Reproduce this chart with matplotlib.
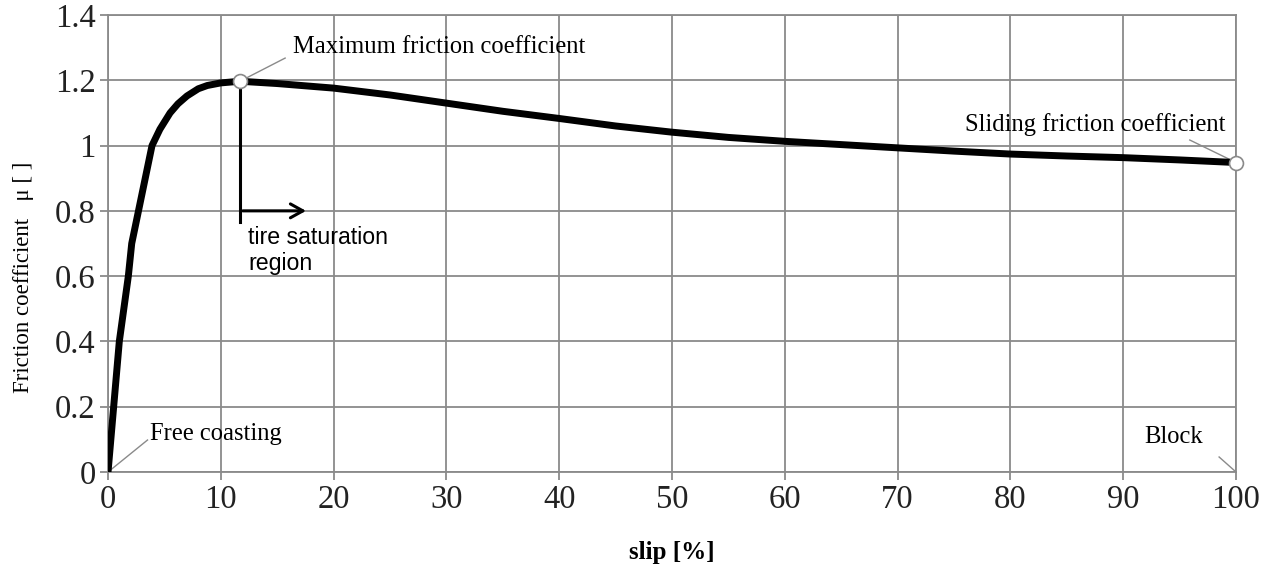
import numpy as np
from matplotlib import pyplot as plt

# slip [%] and friction coefficient
slip = [0, 0.5, 1.0, 1.8, 2.1, 2.7, 3.3, 3.9, 4.6, 5.5, 6.2, 7.0, 8.0, 8.8, 10, 11.7,
        15, 20, 25, 30, 35, 40, 45, 50, 55, 60, 65, 70, 75, 80, 85, 90, 95, 100]
mu = [0, 0.2, 0.4, 0.6, 0.7, 0.8, 0.9, 1.0, 1.05, 1.1, 1.128, 1.152, 1.174, 1.184, 1.192, 1.197,
      1.19, 1.176, 1.155, 1.13, 1.105, 1.083, 1.06, 1.041, 1.025, 1.013, 1.003,
      0.993, 0.983, 0.974, 0.968, 0.963, 0.956, 0.948]

peak = (11.7, 1.197)
slide = (100, 0.948)

xticks = list(range(0, 101, 10))
yticks = [0, 0.2, 0.4, 0.6, 0.8, 1.0, 1.2, 1.4]
ytick_labels = ["0", "0.2", "0.4", "0.6", "0.8", "1", "1.2", "1.4"]

serif = ["Liberation Serif", "DejaVu Serif"]
grey = "#8a8a8a"

fig = plt.figure(figsize=(12.65, 5.68), dpi=100)
ax = fig.add_axes([0.0854, 0.169, 0.8917, 0.8046])

ax.plot(slip, mu, color="black", linewidth=5, solid_capstyle="round",
        solid_joinstyle="round", zorder=3)
ax.plot(*zip(peak, slide), linestyle="none", marker="o", markersize=10,
        markerfacecolor="white", markeredgecolor=grey, markeredgewidth=1.2,
        zorder=4, clip_on=False)

ax.set_xlim(0, 100)
ax.set_ylim(0, 1.4)
ax.set_xticks(xticks)
ax.set_yticks(yticks)
ax.set_yticklabels(ytick_labels)
ax.grid(True, color=grey, linewidth=1.3)
ax.set_axisbelow(True)
for s in ax.spines.values():
    s.set_color(grey)
    s.set_linewidth(1.3)
ax.tick_params(direction="out", length=6, width=1.3, color=grey,
               labelsize=23.5, labelcolor="#222222")
ax.tick_params(axis="x", pad=3)
ax.tick_params(axis="y", pad=3)
for lab in ax.get_xticklabels() + ax.get_yticklabels():
    lab.set_family(serif)

ax.set_xlabel("slip [%]", family=serif, fontsize=18, fontweight="bold")
ax.xaxis.set_label_coords(0.5, -0.15)
ax.set_ylabel("Friction coefficient   \u03bc [ ]", family=serif, fontsize=16.5)
ax.yaxis.set_label_coords(-0.066, 0.425)

# point labels with thin grey leader lines
fs = 17.7
ax.plot([peak[0], 15.7], [peak[1], 1.268], color=grey, linewidth=1, zorder=2)
ax.text(16.4, 1.302, "Maximum friction coefficient", family=serif, fontsize=fs,
        va="center", ha="left")
ax.plot([95.9, slide[0]], [1.017, slide[1]], color=grey, linewidth=1, zorder=2)
ax.text(76.0, 1.066, "Sliding friction coefficient", family=serif, fontsize=fs,
        va="center", ha="left")
ax.plot([0, 3.5], [0, 0.098], color=grey, linewidth=1, zorder=2)
ax.text(3.7, 0.116, "Free coasting", family=serif, fontsize=fs,
        va="center", ha="left")
ax.plot([98.5, 100], [0.046, 0], color=grey, linewidth=1, zorder=2)
ax.text(91.9, 0.107, "Block", family=serif, fontsize=fs,
        va="center", ha="left")

# saturation region marker
ax.plot([peak[0], peak[0]], [1.18, 0.766], color="black", linewidth=2.2, zorder=3)
ax.annotate("", xy=(17.8, 0.80), xytext=(peak[0], 0.80),
            arrowprops=dict(arrowstyle="->,head_length=0.9,head_width=0.5",
                            color="black", linewidth=2.2))
ax.text(12.4, 0.755, "tire saturation\nregion", family=["Liberation Sans", "DejaVu Sans"],
        fontsize=16.7, va="top", ha="left", linespacing=1.2)

fig.savefig("out.png", dpi=100)
